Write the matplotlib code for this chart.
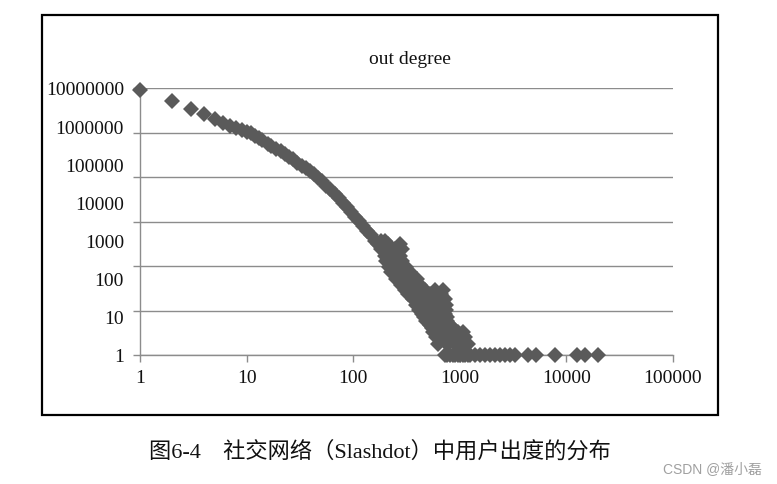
import matplotlib
matplotlib.use("Agg")
import matplotlib.pyplot as plt
import matplotlib.ticker as mticker
from matplotlib.patches import Rectangle

# ---- data (out-degree k, number of users) ----
curve_k = [1, 2, 3, 4, 5, 6, 7, 8, 9, 10, 11, 12, 13, 14, 16, 17, 19, 21, 23, 25,
           27, 30, 33, 36, 39, 43, 47, 51, 56, 61, 67, 73, 80, 87, 95, 104, 113,
           123, 134, 146]
curve_n = [9000000, 4500000, 2750000, 2050000, 1500000, 1200000, 980000, 870000,
           775000, 705000, 645000, 560000, 490000, 435000, 350000, 310000, 257000,
           219000, 187000, 159000, 136000, 110000, 91000, 78000, 66000, 55000,
           45000, 36000, 27500, 22000, 16600, 13000, 9800, 7400, 5600, 4200, 3200,
           2400, 1800, 1360]

tail_k = [160, 182, 199,
          170, 190, 212, 275,
          182, 199, 221, 247, 287,
          199, 221, 247, 275,
          205, 212, 231, 252, 287,
          215, 221, 247, 275, 313,
          226, 231, 263, 300, 341,
          250, 263, 287, 327, 372, 397,
          280, 293, 327, 372, 423,
          305, 313, 341, 380, 423, 472, 585, 696,
          330, 341, 397, 452, 525, 561, 666,
          360, 372, 423, 492, 585, 726,
          390, 397, 452, 537, 624, 742,
          415, 423, 482, 561, 666, 742,
          445, 452, 525, 611, 726,
          465, 472, 549, 652, 759,
          485, 492, 585, 696, 759,
          514, 624, 742,
          525, 611, 726, 809,
          549, 652, 775, 864,
          561, 681, 809, 962, 1072,
          598, 726, 864, 1004, 1119,
          624, 759, 902, 1004, 1072, 1194,
          726, 759, 809, 864, 902, 962, 1004, 1072, 1119, 1194, 1246, 1389,
          1547, 1723, 1920, 2139, 2383, 2655, 2958, 3295, 4363, 5185, 7820,
          12575, 14945, 19790]
tail_n = [1000, 1000, 1000,
          800, 800, 800, 800,
          600, 600, 600, 600, 600,
          400, 400, 400, 400,
          300, 300, 300, 300, 300,
          200, 200, 200, 200, 200,
          150, 150, 150, 150, 150,
          100, 100, 100, 100, 100, 100,
          70, 70, 70, 70, 70,
          50, 50, 50, 50, 50, 50, 50, 50,
          40, 40, 40, 40, 40, 40, 40,
          30, 30, 30, 30, 30, 30,
          20, 20, 20, 20, 20, 20,
          15, 15, 15, 15, 15, 15,
          12, 12, 12, 12, 12,
          10, 10, 10, 10, 10,
          8, 8, 8, 8, 8,
          7, 7, 7,
          6, 6, 6, 6,
          5, 5, 5, 5,
          4, 4, 4, 4, 4,
          3, 3, 3, 3, 3,
          2, 2, 2, 2, 2, 2,
          1, 1, 1, 1, 1, 1, 1, 1, 1, 1, 1, 1,
          1, 1, 1, 1, 1, 1, 1, 1, 1, 1, 1,
          1, 1, 1]

x_tick_values = [1, 10, 100, 1000, 10000, 100000]
x_tick_labels = ["1", "10", "100", "1000", "10000", "100000"]
y_label_values = [1, 10, 100, 1000, 10000, 100000, 1000000, 10000000]
y_label_texts = ["1", "10", "100", "1000", "10000", "100000", "1000000", "10000000"]

title = "out degree"
caption = "图6-4\u3000社交网络（Slashdot）中用户出度的分布"
watermark = "CSDN @潘小磊"

# ---- figure ----
W, H = 777, 485
fig = plt.figure(figsize=(W / 100, H / 100), dpi=100)
fig.patch.set_facecolor("white")

ax = fig.add_axes([140 / W, 1 - 356 / H, (673 - 140) / W, (356 - 89) / H])
ax.set_xscale("log")
ax.set_yscale("log")
ax.set_xlim(1, 100000)
ax.set_ylim(1, 10000000)

mcol = "#5a5a5a"
ax.plot(curve_k, curve_n, linestyle="none", marker="D", ms=8.2, color=mcol,
        markeredgewidth=0, zorder=3, clip_on=False)
ax.plot(tail_k, tail_n, linestyle="none", marker="D", ms=8.2, color=mcol,
        markeredgewidth=0, zorder=3, clip_on=False)

gridc = "#8c8c8c"
serif = "Liberation Serif"

label_map = dict(zip(y_label_values, y_label_texts))

# decade labels (no tick marks) as major ticks
ax.yaxis.set_major_locator(mticker.FixedLocator(y_label_values))
ax.yaxis.set_major_formatter(
    mticker.FuncFormatter(lambda v, p: label_map.get(int(round(v)), "")))
# seven evenly spaced gridlines (with short tick marks) as minor ticks
ax.yaxis.set_minor_locator(
    mticker.FixedLocator([10 ** (7 * i / 6) for i in range(7)]))
ax.yaxis.set_minor_formatter(mticker.NullFormatter())
ax.yaxis.remove_overlapping_locs = False
ax.tick_params(axis="y", which="major", length=0, pad=11.5, labelsize=14)
ax.tick_params(axis="y", which="minor", direction="out", length=5, width=1,
               color=gridc)
ax.grid(axis="y", which="minor", color=gridc, linewidth=1)
ax.grid(axis="y", which="major", visible=False)

ax.xaxis.set_major_locator(mticker.FixedLocator(x_tick_values))
ax.xaxis.set_major_formatter(mticker.FixedFormatter(x_tick_labels))
ax.xaxis.set_minor_locator(mticker.NullLocator())
ax.tick_params(axis="x", which="major", direction="out", length=5, width=1,
               color=gridc, labelsize=14, pad=5)

for lab in ax.get_xticklabels(which="both") + ax.get_yticklabels(which="both"):
    lab.set_fontfamily(serif)
    lab.set_color("#111111")

for s in ["top", "right"]:
    ax.spines[s].set_visible(False)
for s in ["left", "bottom"]:
    ax.spines[s].set_color(gridc)
    ax.spines[s].set_linewidth(1)

ax.set_axisbelow(True)

fig.text(410 / W, 1 - 60 / H, title, ha="center", va="center", fontsize=14,
         family=serif, color="#111111")

# chart border
fig.add_artist(Rectangle((42 / W, 1 - 416 / H), (718 - 42) / W, (416 - 16) / H,
                         transform=fig.transFigure, fill=False,
                         edgecolor="black", linewidth=1.6))

fig.text(380 / W, 1 - 452 / H, caption, ha="center", va="center", fontsize=16,
         family=[serif, "Noto Sans CJK SC"], color="#111111")
fig.text(712 / W, 1 - 469 / H, watermark, ha="center", va="center", fontsize=10,
         family=["Liberation Sans", "Noto Sans CJK SC"], color="#a0a0a0")

fig.savefig("out.png", dpi=100)
